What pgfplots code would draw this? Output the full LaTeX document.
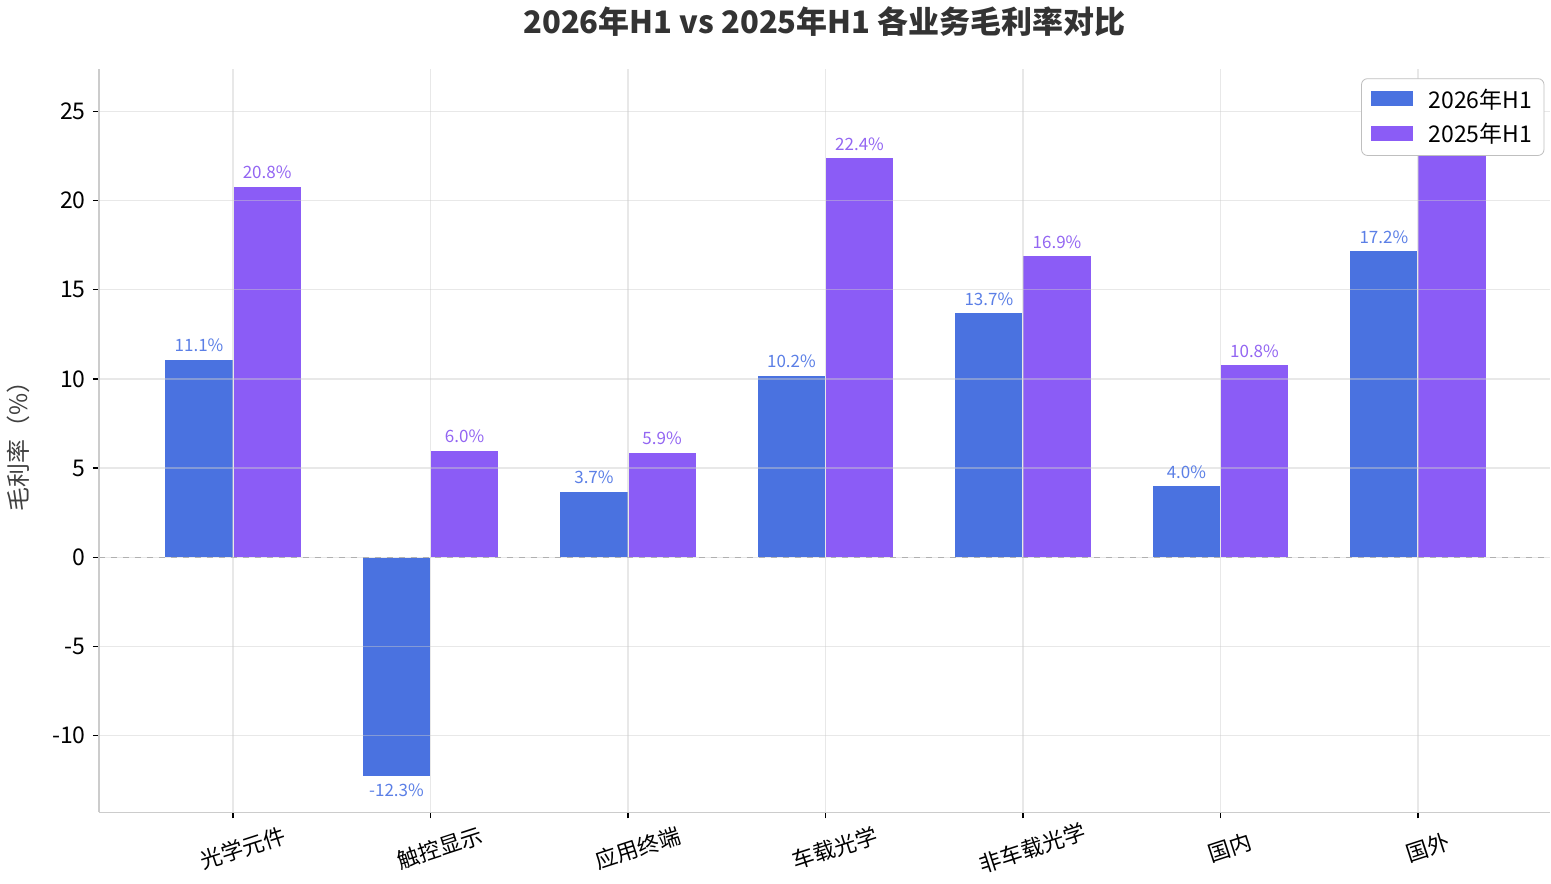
\documentclass[border=0pt]{standalone}
\usepackage{pgfplots}
\pgfplotsset{compat=1.18}
\usepackage{fontspec}
\setmainfont{Noto Sans CJK SC}
\definecolor{cA}{HTML}{4A72E0}
\definecolor{cB}{HTML}{8B5CF6}
\definecolor{lA}{HTML}{5B7FE6}
\definecolor{lB}{HTML}{9366F2}
\begin{document}
\begin{tikzpicture}
\begin{axis}[
  axis on top,
  width=726pt, height=372pt, scale only axis,
  xmin=-0.68, xmax=6.67, ymin=-14.3, ymax=27.4,
  ybar=0pt, bar width=0.345,
  axis x line*=bottom, axis y line*=left,
  axis line style={draw=black!20, line width=0.8pt},
  xtick={0,...,6},
  xticklabels={光学元件,触控显示,应用终端,车载光学,非车载光学,国内,国外},
  ytick={-10,-5,0,5,10,15,20,25},
  /pgf/number format/assume math mode=true,
  tick style={black, line width=0.7pt},
  tick align=outside, major tick length=3pt,
  xticklabel style={rotate=18, anchor=north, font=\fontsize{11}{13}\selectfont, yshift=-7pt},
  yticklabel style={font=\fontsize{11.5}{13}\selectfont},
  ymajorgrids, xmajorgrids,
  grid style={draw=black!20, opacity=0.45, line width=0.7pt},
  ylabel={毛利率（\%）},
  ylabel style={font=\fontsize{12}{14}\selectfont, text=black!75, yshift=4.5pt},
  title={2026年H1 vs 2025年H1 各业务毛利率对比},
  title style={font=\fontsize{15.5}{18}\bfseries\selectfont, text=black!80, yshift=6.5pt},
  nodes near coords={\pgfmathprintnumber[fixed,precision=1,fixed zerofill,assume math mode=true]{\pgfplotspointmeta}\%},
  nodes near coords style={font=\fontsize{8.5}{10}\selectfont},
  legend style={at={(0.996,0.987)}, anchor=north east, draw=black!25, rounded corners=3pt,
    fill=white,
    font=\fontsize{11.5}{14}\selectfont, row sep=2pt, column sep=5pt, inner xsep=4pt, inner ysep=3pt},
  legend image code/.code={\fill[#1, sharp corners] (0pt,-3.5pt) rectangle (22pt,4.5pt);},
  legend cell align=left,
]
\addplot[fill=cA, draw=white, line width=0.5pt, nodes near coords style={text=lA}] coordinates
  {(0,11.1) (1,-12.3) (2,3.7) (3,10.2) (4,13.7) (5,4.0) (6,17.2)};
\addplot[fill=cB, draw=white, line width=0.5pt, nodes near coords style={text=lB}] coordinates
  {(0,20.8) (1,6.0) (2,5.9) (3,22.4) (4,16.9) (5,10.8) (6,25.5)};
\legend{2026年H1,2025年H1}
\draw[black!40, dashed, line width=0.5pt] (axis cs:-0.68,0) -- (axis cs:6.67,0);
\end{axis}
\end{tikzpicture}
\end{document}
